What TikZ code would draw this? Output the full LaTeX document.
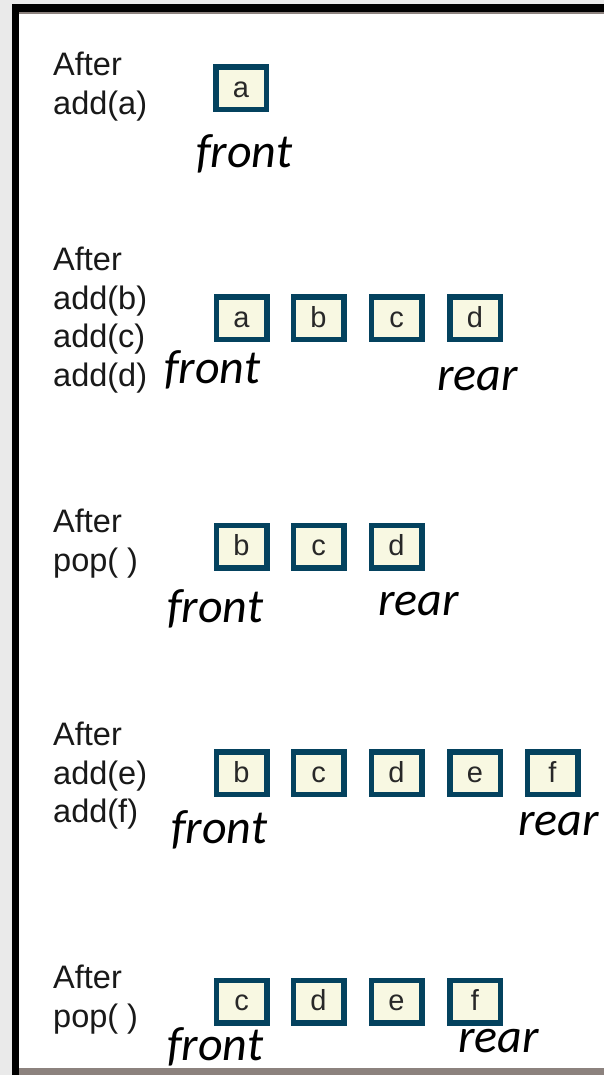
\documentclass[tikz,border=0pt]{standalone}
\usepackage{fontspec}
\setmainfont{Liberation Sans}
\newfontfamily\capfont{Carlito}
\definecolor{frameblack}{RGB}{0,0,0}
\definecolor{bgrey}{RGB}{234,234,234}
\definecolor{edgebrown}{RGB}{140,130,126}
\definecolor{boxedge}{RGB}{4,66,94}
\definecolor{boxfill}{RGB}{248,248,226}
\definecolor{lettergrey}{RGB}{40,40,40}
\tikzset{
  cell/.style={draw=boxedge, line width=5.5pt, fill=boxfill, minimum width=50.5pt, minimum height=42.5pt, inner sep=0pt, text height=18pt, text depth=0pt, font=\fontsize{29}{31}\selectfont, text=lettergrey},
  oplabel/.style={anchor=north west, align=left, inner sep=0pt, font=\fontsize{32.5}{38.8}\selectfont, text=black!90},
  ptrlabel/.style={anchor=base west, inner sep=0pt, font=\capfont\itshape\fontsize{48}{50}\selectfont}
}
\begin{document}
\begin{tikzpicture}[x=1pt,y=-1pt]
\useasboundingbox (0,0) rectangle (604,1075);
% frame
\fill[bgrey] (0,0) rectangle (604,1075);
\fill[white] (12,5) rectangle (604,1075);
\fill[frameblack] (12,4.5) rectangle (604,12);
\fill[edgebrown] (18,12) rectangle (604,14.5);
\fill[frameblack] (12,4.5) rectangle (18.5,1075);
\fill[edgebrown] (18.5,1067.5) rectangle (604,1075);

% row 1
\node[oplabel] (l1) at (53,51.5) {After\\add(a)};
\node[cell] (r1a) at (241,88.5) {a};
\node[ptrlabel] (f1) at (196,168) {front};

% row 2
\node[oplabel] (l2) at (53,246.5) {After\\add(b)\\add(c)\\add(d)};
\node[cell] (r2a) at (241.5,318) {a};
\node[cell] (r2b) at (318.5,318) {b};
\node[cell] (r2c) at (396.5,318) {c};
\node[cell] (r2d) at (475,318) {d};
\node[ptrlabel] (f2) at (164,383) {front};
\node[ptrlabel] (rr2) at (437,390) {rear};

% row 3
\node[oplabel] (l3) at (53,508.5) {After\\pop( )};
\node[cell] (r3b) at (241.5,546.5) {b};
\node[cell] (r3c) at (318.5,546.5) {c};
\node[cell] (r3d) at (396.5,546.5) {d};
\node[ptrlabel] (f3) at (167,622) {front};
\node[ptrlabel] (rr3) at (378,615) {rear};

% row 4
\node[oplabel] (l4) at (53,721.5) {After\\add(e)\\add(f)};
\node[cell] (r4b) at (241.5,773) {b};
\node[cell] (r4c) at (318.5,773) {c};
\node[cell] (r4d) at (396.5,773) {d};
\node[cell] (r4e) at (475,773) {e};
\node[cell] (r4f) at (552.5,773) {f};
\node[ptrlabel] (f4) at (171,843) {front};
\node[ptrlabel] (rr4) at (518,835) {rear};

% row 5
\node[oplabel] (l5) at (53,964.5) {After\\pop( )};
\node[cell] (r5c) at (241.5,1001.5) {c};
\node[cell] (r5d) at (318.5,1001.5) {d};
\node[cell] (r5e) at (396.5,1001.5) {e};
\node[cell] (r5f) at (475,1001.5) {f};
\node[ptrlabel] (f5) at (167,1060) {front};
\node[ptrlabel] (rr5) at (458,1052) {rear};
\end{tikzpicture}
\end{document}
